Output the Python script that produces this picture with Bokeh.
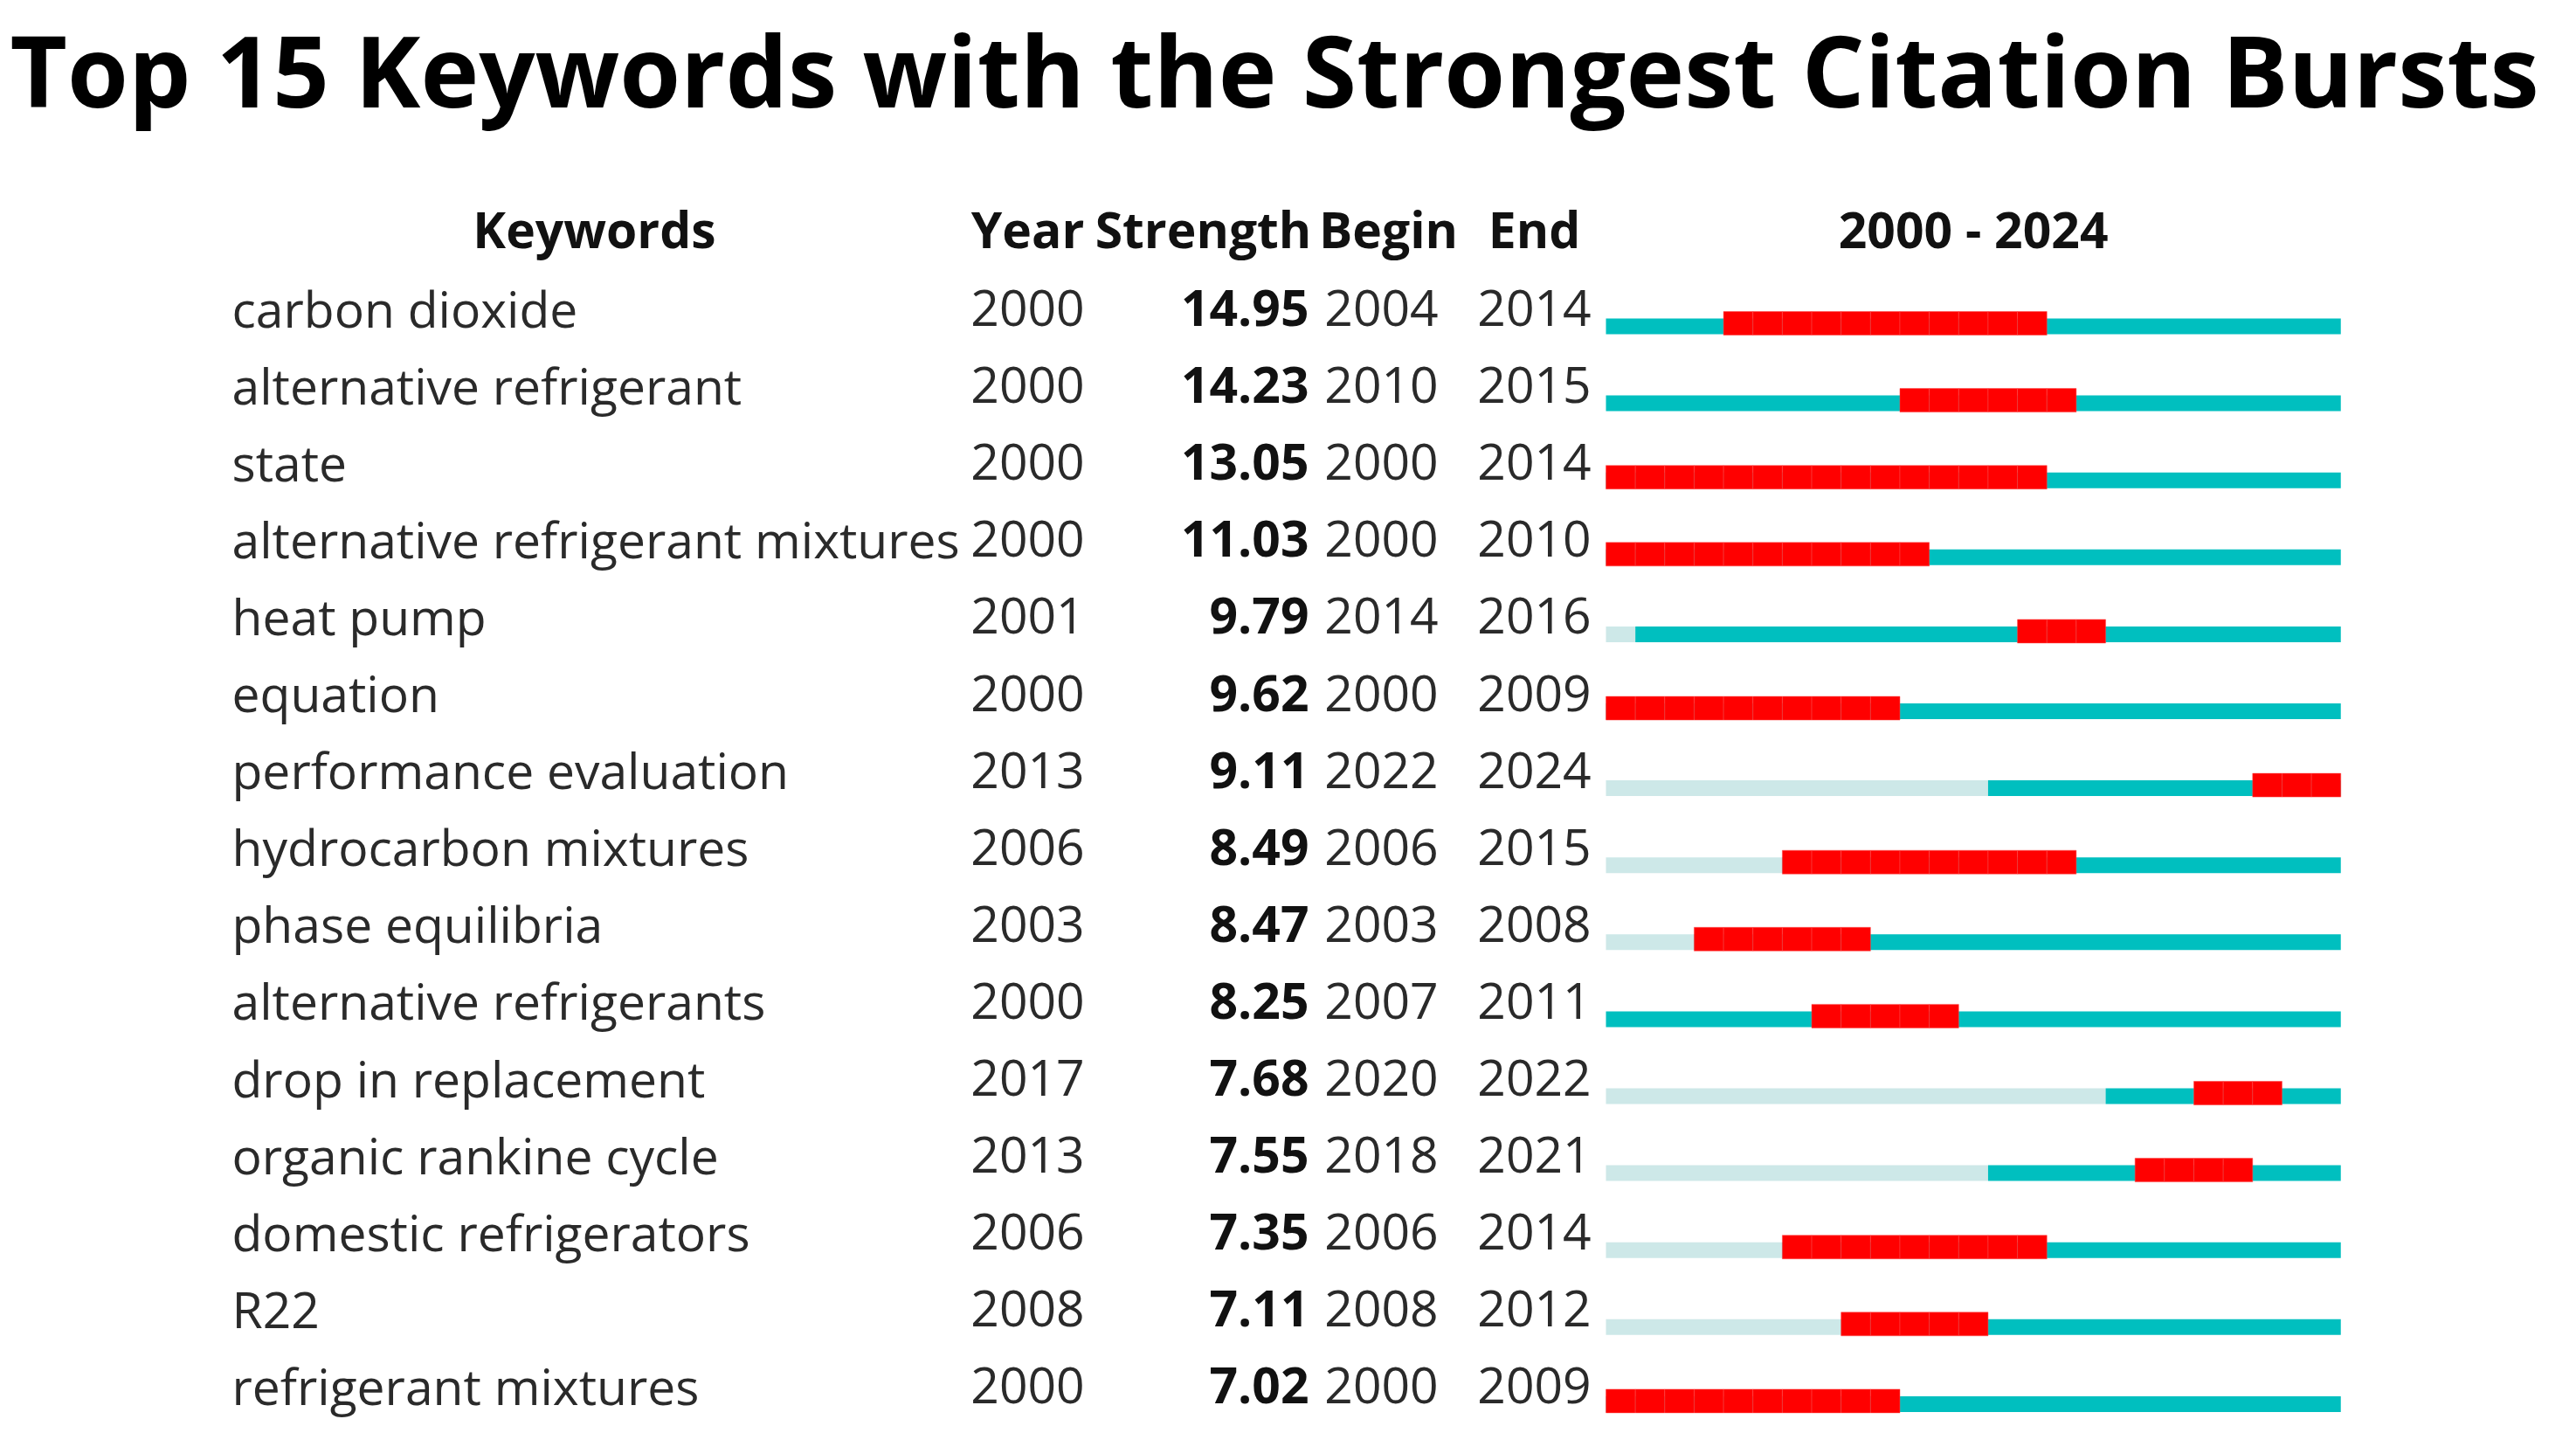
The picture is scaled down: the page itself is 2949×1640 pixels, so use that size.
from bokeh.plotting import figure
from bokeh.models import ColumnDataSource, Range1d
from bokeh.core.properties import value
from bokeh.embed import file_html
from bokeh.resources import INLINE

# ---------------- data ----------------
title_text = "Top 15 Keywords with the Strongest Citation Bursts"
headers = ["Keywords", "Year", "Strength", "Begin", "End"]
keywords = ["carbon dioxide", "alternative refrigerant", "state",
            "alternative refrigerant mixtures", "heat pump", "equation",
            "performance evaluation", "hydrocarbon mixtures", "phase equilibria",
            "alternative refrigerants", "drop in replacement", "organic rankine cycle",
            "domestic refrigerators", "R22", "refrigerant mixtures"]
first_year = [2000, 2000, 2000, 2000, 2001, 2000, 2013, 2006, 2003, 2000, 2017, 2013, 2006, 2008, 2000]
strength = [14.95, 14.23, 13.05, 11.03, 9.79, 9.62, 9.11, 8.49, 8.47, 8.25, 7.68, 7.55, 7.35, 7.11, 7.02]
begin = [2004, 2010, 2000, 2000, 2014, 2000, 2022, 2006, 2003, 2007, 2020, 2018, 2006, 2008, 2000]
end = [2014, 2015, 2014, 2010, 2016, 2009, 2024, 2015, 2008, 2011, 2022, 2021, 2014, 2012, 2009]
span_start, span_end = 2000, 2024

# ---------------- layout ----------------
W, H = 2933, 1624
ROW0 = 373.0      # bar line of first row (px from top)
STEP = 88.1       # row pitch (px)
X0 = 1838.0       # px where span_start begins
PXY = 33.65       # px per year
FS = 57           # table font size (px)
TFS = "113px"     # title font size

def rowpx(px):
    return px / STEP

def ypx(px):
    return (px - ROW0) / STEP

p = figure(width=W, height=H, output_backend="svg", toolbar_location=None,
           x_range=Range1d(0, W),
           y_range=Range1d((H - ROW0) / STEP, -ROW0 / STEP),
           min_border=0)
p.extra_x_ranges = {"yr": Range1d(span_start - X0 / PXY, span_start + (W - X0) / PXY)}
p.axis.visible = False
p.grid.visible = False
p.outline_line_color = None
p.background_fill_color = "white"
p.border_fill_color = "white"

rows = list(range(len(keywords)))
FONT = value("Open Sans")
TXT = "#2a2a2a"
TSHIFT = rowpx(21)   # text anchor offset relative to bar line

src = ColumnDataSource(dict(
    row=rows,
    ty=[r - TSHIFT for r in rows],
    kw=keywords,
    yr=[str(v) for v in first_year],
    st=["%.2f" % v for v in strength],
    bg=[str(v) for v in begin],
    en=[str(v) for v in end],
    fy=first_year,
    s0=[span_start] * len(rows),
    s1=[span_end + 1] * len(rows),
    bt=[r - rowpx(9) for r in rows],
    bb=[r + rowpx(9) for r in rows],
))

# bars: light part (before first appearance), teal part (after)
p.quad(left="s0", right="fy", top="bt", bottom="bb", source=src,
       fill_color="#cde8e8", line_color=None, x_range_name="yr")
p.quad(left="fy", right="s1", top="bt", bottom="bb", source=src,
       fill_color="#00bfbf", line_color=None, x_range_name="yr")

# burst (red) cells, one per year
cl, cr, ct, cb = [], [], [], []
for r, b, e in zip(rows, begin, end):
    for yv in range(b, e + 1):
        cl.append(yv)
        cr.append(yv + 1)
        ct.append(r - rowpx(17))
        cb.append(r + rowpx(10))
p.quad(left=cl, right=cr, top=ct, bottom=cb, fill_color="#ff0000",
       line_color="#ff4a4a", line_alpha=0.5, line_width=1, x_range_name="yr")

# table text
p.text(x=265, y="ty", text="kw", source=src, text_font=FONT, text_font_size="%dpx" % FS,
       text_color=TXT, text_align="left", text_baseline="alphabetic")
p.text(x=1176, y="ty", text="yr", source=src, text_font=FONT, text_font_size="%dpx" % FS,
       text_color=TXT, text_align="center", text_baseline="alphabetic")
p.text(x=1498, y="ty", text="st", source=src, text_font=FONT, text_font_size="%dpx" % FS,
       text_font_style="bold", text_color="#111111", text_align="right",
       text_baseline="alphabetic")
p.text(x=1581, y="ty", text="bg", source=src, text_font=FONT, text_font_size="%dpx" % FS,
       text_color=TXT, text_align="center", text_baseline="alphabetic")
p.text(x=1756, y="ty", text="en", source=src, text_font=FONT, text_font_size="%dpx" % FS,
       text_color=TXT, text_align="center", text_baseline="alphabetic")

# headers
hy = ypx(261)
p.text(x=[680, 1176, 1377, 1589, 1756], y=[hy] * 5, text=headers, text_font=FONT,
       text_font_size="%dpx" % FS, text_font_style="bold", text_color="#111111",
       text_align="center", text_baseline="alphabetic")
p.text(x=[(span_start + span_end + 1) / 2], y=[hy], text=["%d - %d" % (span_start, span_end)],
       text_font=FONT, text_font_size="%dpx" % FS, text_font_style="bold", text_color="#111111",
       text_align="center", text_baseline="alphabetic", x_range_name="yr")

# title
p.text(x=[11], y=[ypx(78)], text=[title_text], text_font=FONT,
       text_font_size=TFS, text_font_style="bold", text_color="#000000",
       text_align="left", text_baseline="alphabetic")

open("out.html", "w").write(file_html(p, INLINE))
